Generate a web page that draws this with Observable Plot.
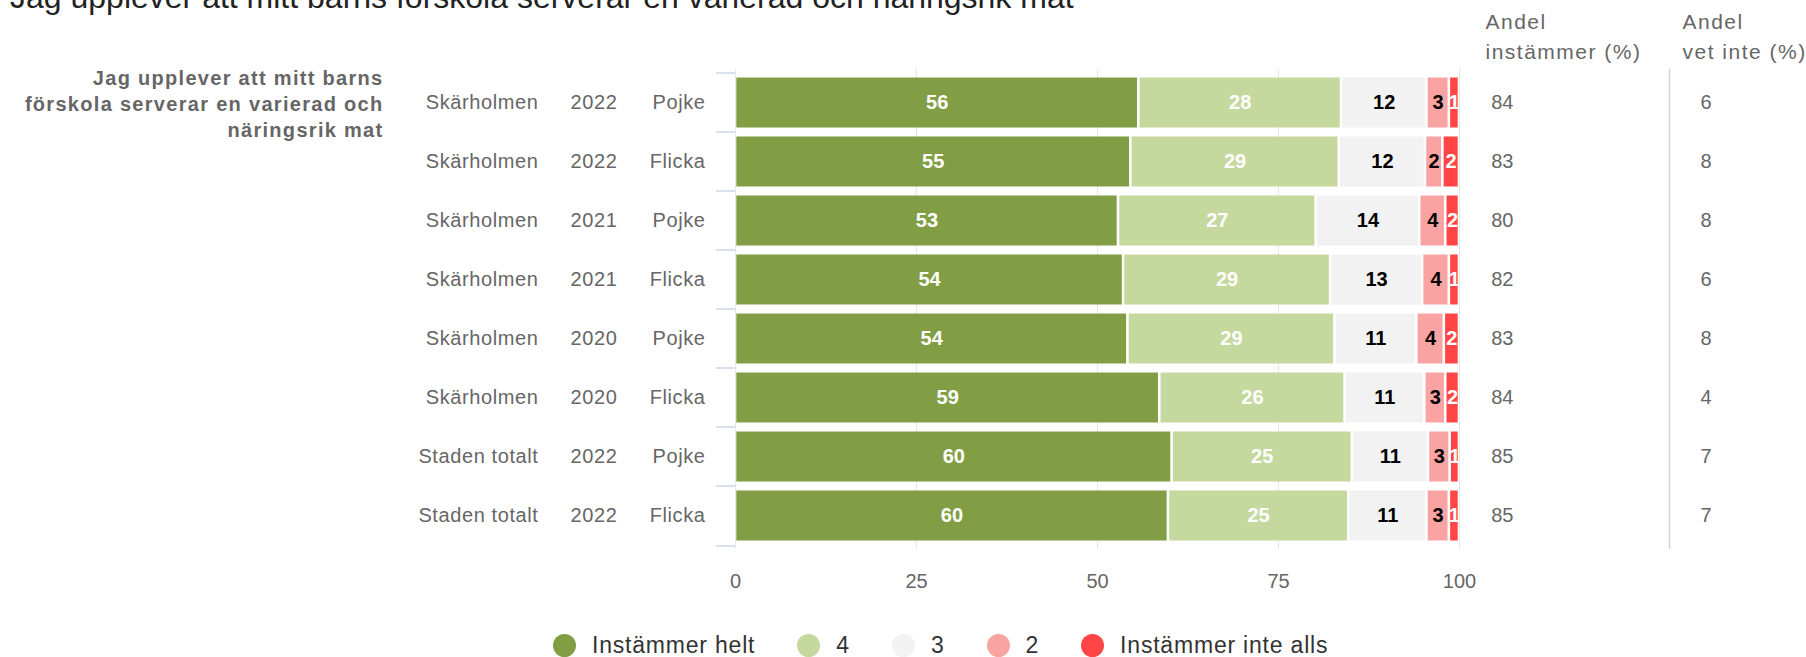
<!DOCTYPE html>
<html><head><meta charset="utf-8">
<script src="https://cdn.jsdelivr.net/npm/d3@7"></script>
<script src="https://cdn.jsdelivr.net/npm/@observablehq/plot@0.6"></script>
<style>
body{margin:0;background:#fff;font-family:"Liberation Sans",Arial,sans-serif;}
#wrap{position:relative;width:1806px;height:657px;overflow:hidden;background:#fff;}
#title{position:absolute;left:10px;top:-19px;font-size:32px;line-height:32px;color:#222;white-space:nowrap;}
#chart{position:absolute;left:0;top:0;}
#legend{position:absolute;left:553px;top:633px;display:flex;align-items:center;font-size:23px;line-height:24px;color:#333;letter-spacing:0.8px;white-space:nowrap;}
.item{display:flex;align-items:center;margin-right:42px}
.sw{width:23px;height:23px;border-radius:50%;margin-right:16px;flex:none}
text[aria-label="group-label"]{letter-spacing:1.3px}
text[aria-label="headers"]{letter-spacing:1.5px}
text[aria-label="row-labels"]{letter-spacing:0.6px}
</style>
</head><body>
<div id="wrap">
  <div id="title"></div>
  <div id="chart"></div>
  <div id="legend"></div>
</div>
<script>
const title = "Jag upplever att mitt barns förskola serverar en varierad och näringsrik mat";
const groupLabel = "Jag upplever att mitt barns\nförskola serverar en varierad och\nnäringsrik mat";
const headers = ["Andel\ninstämmer (%)", "Andel\nvet inte (%)"];
const regions = ["Skärholmen","Skärholmen","Skärholmen","Skärholmen","Skärholmen","Skärholmen","Staden totalt","Staden totalt"];
const years = ["2022","2022","2021","2021","2020","2020","2022","2022"];
const genders = ["Pojke","Flicka","Pojke","Flicka","Pojke","Flicka","Pojke","Flicka"];
const categories = ["Instämmer helt","4","3","2","Instämmer inte alls"];
const colors = ["#819e45","#c5d89d","#f2f2f2","#f9a3a3","#ff4545"];
const labelColors = ["white","white","black","black","white"];
const instammerHelt = [55.7,54.6,52.9,53.6,54.2,58.6,60.3,59.8];
const svar4 = [28.0,28.8,27.3,28.6,28.6,25.6,24.9,24.9];
const svar3 = [11.8,11.9,14.3,12.7,11.3,11.0,10.5,10.8];
const svar2 = [3.1,2.4,3.6,3.7,3.8,2.9,3.0,3.1];
const instammerInte = [1.4,2.3,1.9,1.4,2.1,1.9,1.3,1.4];
const andelInstammer = [84,83,80,82,83,84,85,85];
const andelVetInte = [6,8,8,6,8,4,7,7];
const xTicks = [0,25,50,75,100];

const series = [instammerHelt, svar4, svar3, svar2, instammerInte];
const rows = regions.map((r,i)=>({key:"r"+i, region:r, year:years[i], gender:genders[i], ai:andelInstammer[i], av:andelVetInte[i]}));
const keys = rows.map(d=>d.key);
const data = rows.flatMap((r,i)=>categories.map((c,j)=>({key:r.key, cat:c, value:series[j][i], color:colors[j], labelColor:labelColors[j]})));

document.getElementById("title").textContent = title;

const gray = "#666";
const lab = s => () => s;
const chart = Plot.plot({
  width:1806, height:610,
  marginTop:68.8, marginBottom:61.2, marginLeft:735, marginRight:347,
  x:{domain:[0,100]},
  y:{domain:keys, padding:0, axis:null},
  color:{type:"identity"},
  style:{fontFamily:"'Liberation Sans', Arial, sans-serif", fontSize:"20px", background:"transparent", overflow:"visible"},
  marks:[
    Plot.gridX(xTicks, {stroke:"#e6e6e6", strokeOpacity:1}),
    Plot.ruleY(keys, {y:d=>d, x1:0, x2:0, insetLeft:-19, dy:-30, stroke:"#ccd6eb", strokeWidth:1.5}),
    Plot.ruleY(keys.slice(-1), {y:d=>d, x1:0, x2:0, insetLeft:-19, dy:30, stroke:"#ccd6eb", strokeWidth:1.5}),
    Plot.barX(data, Plot.stackX({x:"value", y:"key", z:"cat", fill:"color", insetLeft:1.3, insetRight:1.3, insetTop:4.5, insetBottom:4.5})),
    Plot.text(data, Plot.stackX({x:"value", y:"key", z:"cat", text:d=>String(Math.round(d.value)), fill:"labelColor", fontWeight:"bold", fontSize:20})),
    Plot.axisX({ticks:xTicks, tickSize:0, tickPadding:24, fontSize:20, fill:gray, label:null}),
    Plot.text(rows, {y:"key", text:"region", frameAnchor:"left", dx:-197, textAnchor:"end", fill:gray, fontSize:20, ariaLabel:lab("row-labels")}),
    Plot.text(rows, {y:"key", text:"year", frameAnchor:"left", dx:-118, textAnchor:"end", fill:gray, fontSize:20, ariaLabel:lab("row-labels")}),
    Plot.text(rows, {y:"key", text:"gender", frameAnchor:"left", dx:-30, textAnchor:"end", fill:gray, fontSize:20, ariaLabel:lab("row-labels")}),
    Plot.text([{key:keys[0], label:groupLabel}], {y:"key", text:"label", frameAnchor:"left", dx:-352, textAnchor:"end", lineAnchor:"middle", lineHeight:26/20, fontSize:20, fontWeight:"bold", fill:gray, ariaLabel:lab("group-label")}),
    Plot.text(headers.slice(0,1), {text:d=>d, frameAnchor:"top-right", dx:26, dy:-10, textAnchor:"start", lineAnchor:"bottom", lineHeight:30/21, fontSize:21, fill:gray, ariaLabel:lab("headers")}),
    Plot.text(headers.slice(1), {text:d=>d, frameAnchor:"top-right", dx:223, dy:-10, textAnchor:"start", lineAnchor:"bottom", lineHeight:30/21, fontSize:21, fill:gray, ariaLabel:lab("headers")}),
    Plot.text(rows, {y:"key", text:d=>String(d.ai), frameAnchor:"right", dx:31.7, textAnchor:"start", fill:gray, fontSize:20}),
    Plot.text(rows, {y:"key", text:d=>String(d.av), frameAnchor:"right", dx:241, textAnchor:"start", fill:gray, fontSize:20}),
    Plot.ruleX([100], {x:d=>d, dx:210, stroke:"#ccd6eb", strokeWidth:1.5})
  ]
});
document.getElementById("chart").appendChild(chart);

const legend = document.getElementById("legend");
categories.forEach((c,j)=>{
  const item = document.createElement("div"); item.className="item";
  const sw = document.createElement("span"); sw.className="sw"; sw.style.background=colors[j];
  const t = document.createElement("span"); t.textContent=c;
  item.appendChild(sw); item.appendChild(t); legend.appendChild(item);
});
</script>
</body></html>
